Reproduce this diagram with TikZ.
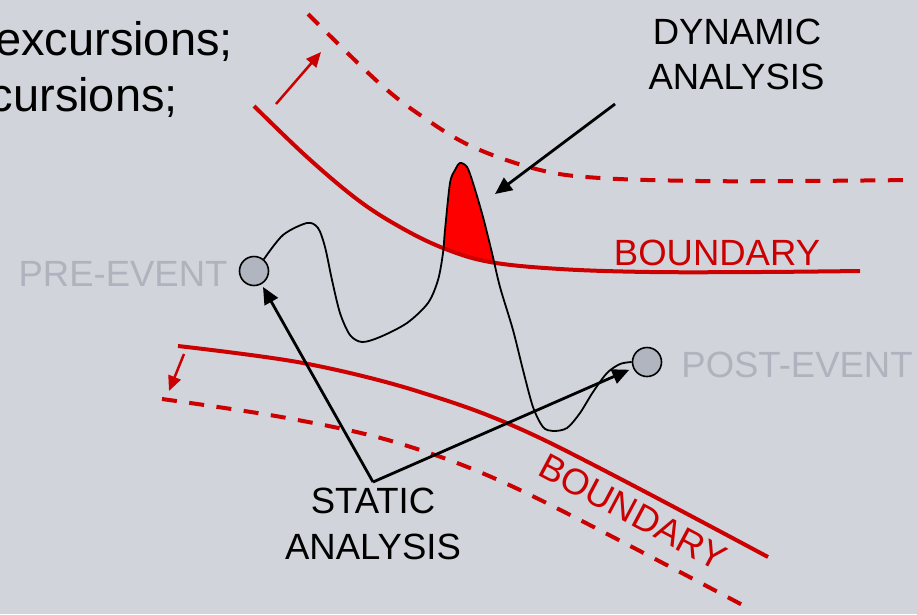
\documentclass[tikz,border=0pt]{standalone}
\usepackage{fontspec}
\setmainfont{Liberation Sans}
\usetikzlibrary{arrows.meta}
\definecolor{bg}{HTML}{D1D4DB}
\definecolor{bred}{HTML}{CC0000}
\definecolor{sred}{HTML}{FF0000}
\definecolor{evgray}{HTML}{B0B3BD}
\definecolor{circfill}{HTML}{B1B5BF}
\begin{document}
\begin{tikzpicture}[x=1pt,y=-1pt,
  lbl/.style={font=\fontsize{36.5}{44}\selectfont, inner sep=0pt, anchor=base},
  bigtxt/.style={font=\fontsize{47}{56}\selectfont, inner sep=0pt, anchor=base east},
  bline/.style={draw=bred, line width=4pt},
  bdash/.style={draw=bred, line width=4pt, dash pattern=on 15pt off 12.5pt},
  redarrow/.style={draw=bred, line width=2.5pt, -{Triangle[length=15pt,width=13pt]}},
  blkarrow/.style={draw=black, line width=2.8pt, -{Triangle[length=17pt,width=15pt]}},
  event/.style={circle, draw=black, line width=1.6pt, fill=circfill, minimum size=29pt, inner sep=0pt}]
\fill[bg] (0,0) rectangle (917,614);
\useasboundingbox (0,0) rectangle (917,614);
\clip (0,0) rectangle (917,614);

% top-left clipped text
\node[bigtxt] (l1) at (233,55) {excursions;};
\node[bigtxt] (l2) at (178,111) {cursions;};

% event circles
\node[event] (pre) at (254,271) {};
\node[event] (post) at (647,362) {};

% red spike fill (above upper boundary)
\begin{scope}
  \clip plot[smooth,tension=0.6] coordinates {(254,106) (307,157) (358,200) (400,227) (443,248) (490,262) (560,269) (650,272) (760,272) (860,271)} -- (860,0) -- (254,0) -- cycle;
  \clip (425,100) rectangle (515,300);
  \fill[sred] plot[smooth,tension=0.5] coordinates {(pre.50) (283,235) (307,223) (318,228) (325,247) (332,280) (340,313) (350,335) (362,342) (380,337) (407,323) (428,303) (438,280) (443,253) (445,230) (450,183) (455,170) (460,163) (467,167) (473,183) (483,217) (492,253) (500,287) (513,330) (523,370) (533,407) (543,427) (553,431) (567,428) (580,413) (593,392) (607,373) (620,364) (post.west)} -- cycle;
\end{scope}

% boundaries
\draw[bline] plot[smooth,tension=0.6] coordinates {(254,106) (307,157) (358,200) (400,227) (443,248) (490,262) (560,269) (650,272) (760,272) (860,271)};
\draw[bdash] plot[smooth,tension=0.6] coordinates {(308,14) (378,82) (423,117) (473,147) (540,170) (600,178) (700,181) (800,181) (913,180)};
\draw[bline] plot[smooth,tension=0.55] coordinates {(178,346) (303,363) (420,392) (540,438) (768,557)};
\draw[bdash] plot[smooth,tension=0.55] coordinates {(162,399) (287,418) (398,443) (520,490) (750,609)};

% red offset arrows
\coordinate (ua1) at (276,104);
\coordinate (ua2) at (321,52);
\draw[redarrow] (ua1) -- (ua2);
\coordinate (la1) at (184,354);
\coordinate (la2) at (169,391);
\draw[redarrow] (la1) -- (la2);

% trajectory
\draw[black, line width=1.8pt] plot[smooth,tension=0.5] coordinates {(pre.50) (283,235) (307,223) (318,228) (325,247) (332,280) (340,313) (350,335) (362,342) (380,337) (407,323) (428,303) (438,280) (443,253) (445,230) (450,183) (455,170) (460,163) (467,167) (473,183) (483,217) (492,253) (500,287) (513,330) (523,370) (533,407) (543,427) (553,431) (567,428) (580,413) (593,392) (607,373) (620,364) (post.west)};

% labels
\node[lbl, text=bred] (bnd1) at (717,265) {BOUNDARY};
\node[font=\fontsize{36.5}{44}\selectfont, inner sep=0pt, text=bred, rotate=-28] (bnd2) at (633,512) {BOUNDARY};
\node[lbl, text=evgray] (pretxt) at (123,286) {PRE-EVENT};
\node[lbl, text=evgray] (posttxt) at (797,377) {POST-EVENT};
\node[lbl] (dyn1) at (737,44) {DYNAMIC};
\node[lbl] (dyn2) at (736.5,89) {ANALYSIS};
\node[lbl] (sta1) at (373,513) {STATIC};
\node[lbl] (sta2) at (373,559) {ANALYSIS};

% analysis arrows
\coordinate (dynstart) at (615,104);
\coordinate (dynend) at (495,194);
\draw[blkarrow] (dynstart) -- (dynend);
\coordinate (apex) at (373,482);
\draw[blkarrow, shorten >=3pt] (apex) -- (pre);
\draw[blkarrow, shorten >=4pt] (apex) -- (post);
\end{tikzpicture}
\end{document}
